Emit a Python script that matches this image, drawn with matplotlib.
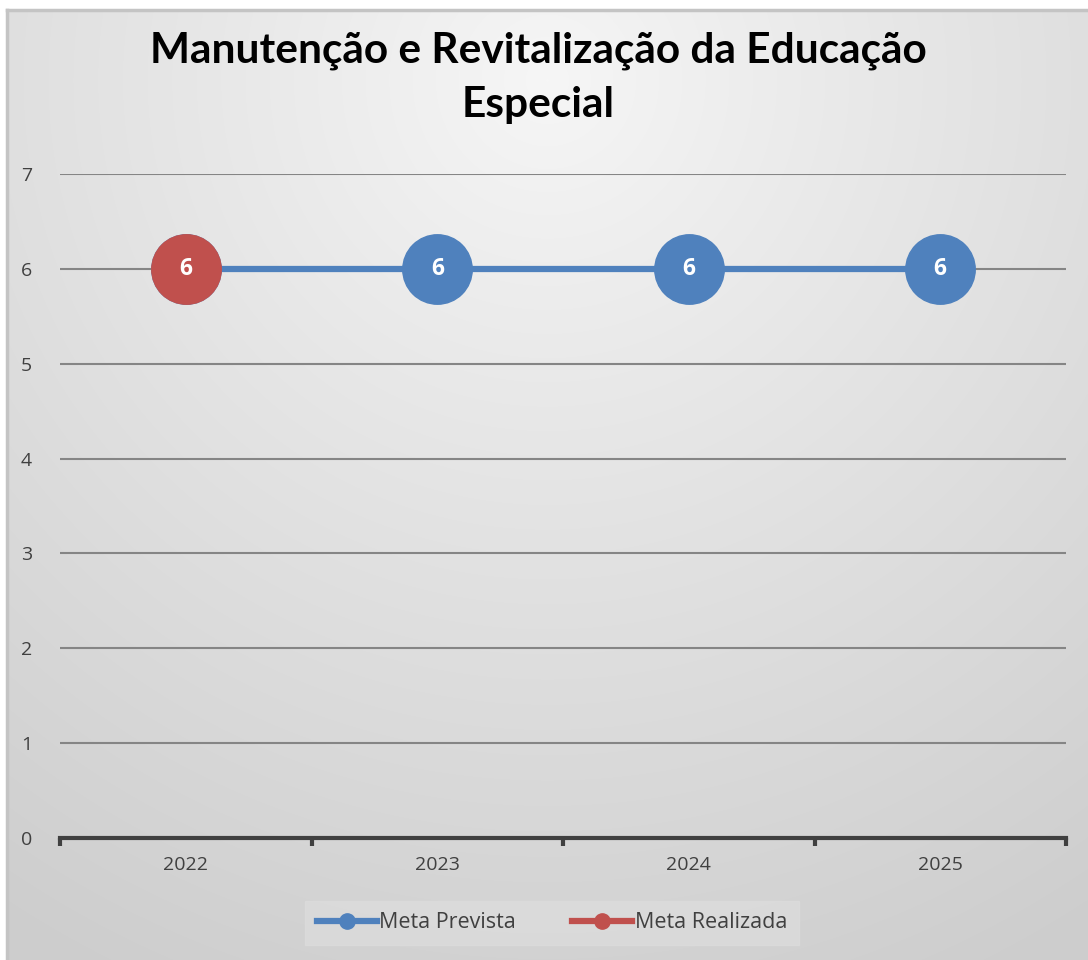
import numpy as np
import matplotlib
matplotlib.use('Agg')
import matplotlib.pyplot as plt
from matplotlib.lines import Line2D

# data
years = ['2022', '2023', '2024', '2025']
meta_prevista = [6, 6, 6, 6]
meta_realizada = [6]
y_ticks = [0, 1, 2, 3, 4, 5, 6, 7]
title = 'Manutenção e Revitalização da Educação\nEspecial'

blue = '#4f81bd'
red = '#c0504d'
txt = '#404040'

fig = plt.figure(figsize=(10.88, 9.6), dpi=100)

# chart area background with soft radial gradient
bg = fig.add_axes([7 / 1088, 0, 1 - 7 / 1088, 1 - 10 / 960])
W, H = 1081, 950
xx, yy = np.meshgrid(np.arange(W), np.arange(H))
d = np.sqrt((xx - 540) ** 2 + (yy - 70) ** 2)
shade = 0.965 - 0.16 * np.clip(d / 1000, 0, 1) ** 0.95
bg.imshow(np.dstack([shade] * 3), aspect='auto', extent=[0, W, H, 0])
bg.set_xlim(0, W)
bg.set_ylim(H, 0)
bg.axis('off')
fig.add_artist(Line2D([7 / 1088, 1], [1 - 10 / 960] * 2, color='#c4c4c4', lw=2.5))
fig.add_artist(Line2D([7 / 1088] * 2, [0, 1 - 10 / 960], color='#c4c4c4', lw=2.5))

ax = fig.add_axes([60 / 1088, 1 - 838 / 960, 1006 / 1088, 664 / 960])
ax.patch.set_alpha(0)
x = np.arange(len(years))

ax.plot(x, meta_prevista, color=blue, lw=4.5, marker='o', markersize=50,
        markeredgecolor=blue, label='Meta Prevista', zorder=3)
ax.plot(x[:len(meta_realizada)], meta_realizada, color=red, lw=4.5, marker='o',
        markersize=50, markeredgecolor=red, label='Meta Realizada', zorder=4)

for i, v in enumerate(meta_prevista):
    ax.text(x[i], v, str(v), color='white', fontsize=16.5, fontweight='bold',
            ha='center', va='center', family='Open Sans', zorder=5)

ax.set_xlim(-0.5, len(years) - 0.5)
ax.set_ylim(0, 7)
ax.set_yticks(y_ticks)
ax.set_yticklabels([str(t) for t in y_ticks], fontsize=14, color=txt, family='Open Sans')
ax.tick_params(axis='y', length=0, pad=20)
ax.set_xticks(x)
ax.set_xticklabels(years, fontsize=14, color=txt, family='Open Sans')
ax.tick_params(axis='x', length=0, pad=13)
ax.set_xticks(np.arange(len(years) + 1) - 0.5, minor=True)
ax.tick_params(axis='x', which='minor', length=6, width=3, color=txt, direction='out')
ax.grid(axis='y', color='#858585', lw=1.5)
ax.set_axisbelow(True)
for s in ['top', 'right', 'left']:
    ax.spines[s].set_visible(False)
ax.spines['bottom'].set_color(txt)
ax.spines['bottom'].set_linewidth(3)
ax.spines['bottom'].set_zorder(6)

fig.text(538 / 1088, 1 - 78 / 960, title, ha='center', va='center', fontsize=30.5,
         fontweight='bold', family='Lato', linespacing=1.5, color='black')

handles = [Line2D([], [], color=blue, lw=4.5, marker='o', markersize=11),
           Line2D([], [], color=red, lw=4.5, marker='o', markersize=11)]
leg = fig.legend(handles, ['Meta Prevista', 'Meta Realizada'], loc='center',
                 bbox_to_anchor=(552 / 1088, 1 - 923 / 960), ncol=2, frameon=True,
                 fancybox=False, handlelength=2.8, handletextpad=0.1, columnspacing=2.6,
                 borderpad=0.55, prop={'family': 'Open Sans', 'size': 15.5})
leg.get_frame().set_facecolor('#dcdcdc')
leg.get_frame().set_edgecolor('#dcdcdc')
for t in leg.get_texts():
    t.set_color(txt)

fig.savefig('out.png', dpi=100)
